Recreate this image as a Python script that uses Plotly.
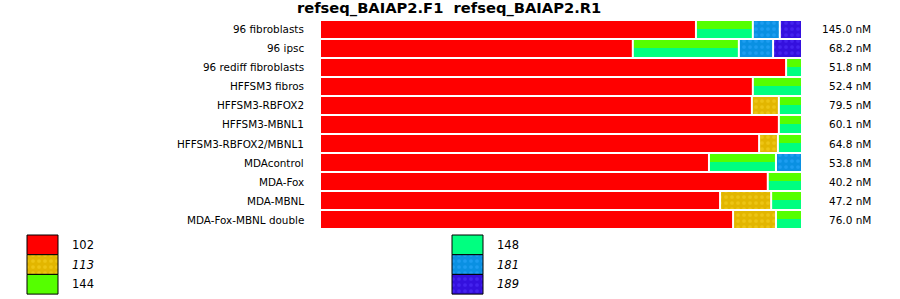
import plotly.graph_objects as go

# ---------------- data ----------------
categories = ["96 fibroblasts", "96 ipsc", "96 rediff fibroblasts", "HFFSM3 fibros",
              "HFFSM3-RBFOX2", "HFFSM3-MBNL1", "HFFSM3-RBFOX2/MBNL1", "MDAcontrol",
              "MDA-Fox", "MDA-MBNL", "MDA-Fox-MBNL double"]
totals_nM = [145.0, 68.2, 51.8, 52.4, 79.5, 60.1, 64.8, 53.8, 40.2, 47.2, 76.0]

# percentage share of each isoform per sample
pct_102 = [78.0, 64.9, 96.7, 89.8, 89.6, 95.2, 91.1, 80.7, 92.9, 83.0, 85.7]
pct_113 = [0.0, 0.0, 0.0, 0.0, 5.6, 0.0, 3.9, 0.0, 0.0, 10.6, 8.9]
pct_144_148 = [11.8, 22.0, 3.3, 10.2, 4.8, 4.8, 5.0, 13.9, 7.1, 6.4, 5.4]  # shared 144/148 segment
pct_181 = [5.6, 7.1, 0.0, 0.0, 0.0, 0.0, 0.0, 5.4, 0.0, 0.0, 0.0]
pct_189 = [4.6, 6.0, 0.0, 0.0, 0.0, 0.0, 0.0, 0.0, 0.0, 0.0, 0.0]

legend_names = ["102", "113", "144", "148", "181", "189"]
legend_italic = [False, True, False, False, True, True]

title_text = "refseq_BAIAP2.F1  refseq_BAIAP2.R1"

# ---------------- styles ----------------
W, H = 900, 299
FONT = "DejaVu Sans"
styles = {
    "102": dict(color="#FF0000"),
    "113": dict(color="#E2B600", pattern=dict(shape=".", bgcolor="#E2B600", fgcolor="#F8D428",
                                              size=6, solidity=0.3, fillmode="overlay")),
    "144": dict(color="#55FF00"),
    "148": dict(color="#00FF80"),
    "181": dict(color="#0A90E2", pattern=dict(shape=".", bgcolor="#0A90E2", fgcolor="#30AAFF",
                                              size=6, solidity=0.3, fillmode="overlay")),
    "189": dict(color="#3410DE", pattern=dict(shape=".", bgcolor="#3410DE", fgcolor="#5436FF",
                                              size=6, solidity=0.3, fillmode="overlay")),
}

x0_px, x1_px = 321, 803          # bar axis pixel extent (incl. trailing gap)
top_px, bot_px = 20, 229         # row area
gap = 2.0 / (x1_px - x0_px) * 100  # 2px white gap between segments in % units
bar_w = 17 / 19
off_top = -bar_w / 2
w_144 = 8 / 19
w_148 = bar_w - w_144

fig = go.Figure()

def seg_trace(name, values, bases, offset, width):
    xs, bs = [], []
    for v, b in zip(values, bases):
        xs.append(v - gap if v > 0 else None)
        bs.append(b)
    st = styles[name]
    marker = dict(color=st["color"], line=dict(width=0))
    if "pattern" in st:
        marker["pattern"] = st["pattern"]
    return go.Bar(y=categories, x=xs, base=bs, orientation="h", offset=offset, width=width,
                  marker=marker, name=name, showlegend=False, hoverinfo="skip",
                  xaxis="x", yaxis="y")

n = len(categories)
base_102 = [0.0] * n
base_113 = [a for a in pct_102]
base_144 = [a + b for a, b in zip(pct_102, pct_113)]
base_181 = [a + b for a, b in zip(base_144, pct_144_148)]
base_189 = [a + b for a, b in zip(base_181, pct_181)]

fig.add_trace(seg_trace("102", pct_102, base_102, off_top, bar_w))
fig.add_trace(seg_trace("113", pct_113, base_113, off_top, bar_w))
fig.add_trace(seg_trace("144", pct_144_148, base_144, off_top, w_144))
fig.add_trace(seg_trace("148", pct_144_148, base_144, off_top + w_144, w_148))
fig.add_trace(seg_trace("181", pct_181, base_181, off_top, bar_w))
fig.add_trace(seg_trace("189", pct_189, base_189, off_top, bar_w))

annotations = []
for cat, tot in zip(categories, totals_nM):
    annotations.append(dict(x=306 / W, xref="paper", y=cat, yref="y", text=cat,
                            xanchor="right", yanchor="middle", showarrow=False,
                            font=dict(family=FONT, size=10.4, color="black")))
    annotations.append(dict(x=873 / W, xref="paper", y=cat, yref="y", text=f"{tot:.1f} nM",
                            xanchor="right", yanchor="middle", showarrow=False,
                            font=dict(family=FONT, size=10.5, color="black")))

annotations.append(dict(x=449 / W, xref="paper", y=1 - 8.5 / H, yref="paper", text=f"<b>{title_text}</b>",
                        xanchor="center", yanchor="middle", showarrow=False,
                        font=dict(family=FONT, size=14.7, color="black")))

# ---------------- legend (boxes drawn as bars on an auxiliary pixel axis) ----------------
leg_cols_x = [27, 452]
leg_box_w = 31
leg_top = 235
leg_h = 19.7
for i, nm in enumerate(legend_names):
    col, row = divmod(i, 3)
    bx = leg_cols_x[col]
    by = leg_top + row * leg_h
    st = styles[nm]
    marker = dict(color=st["color"], line=dict(width=1, color="black"))
    if "pattern" in st:
        marker["pattern"] = st["pattern"]
    fig.add_trace(go.Bar(x=[bx + leg_box_w / 2], y=[leg_h], base=[by], width=[leg_box_w],
                         marker=marker, showlegend=False, hoverinfo="skip",
                         xaxis="x2", yaxis="y2"))
    txt = f"<i>{nm}</i>" if legend_italic[i] else nm
    annotations.append(dict(x=(bx + 43) / W, xref="paper", y=1 - (by + leg_h / 2) / H, yref="paper",
                            text=txt, xanchor="left", yanchor="middle", showarrow=False,
                            font=dict(family=FONT, size=11.5, color="black")))

fig.update_layout(
    width=W, height=H,
    margin=dict(l=0, r=0, t=0, b=0),
    paper_bgcolor="white", plot_bgcolor="rgba(0,0,0,0)",
    barmode="overlay",
    showlegend=False,
    xaxis=dict(domain=[x0_px / W, x1_px / W], range=[0, 100], visible=False, fixedrange=True),
    yaxis=dict(domain=[1 - bot_px / H, 1 - top_px / H], type="category",
               categoryorder="array", categoryarray=categories,
               range=[n - 0.5, -0.5], visible=False, fixedrange=True),
    xaxis2=dict(domain=[0, 1], range=[0, W], visible=False, anchor="y2", fixedrange=True),
    yaxis2=dict(domain=[0, 1], range=[H, 0], visible=False, anchor="x2", fixedrange=True),
    annotations=annotations,
)

fig.write_html("out.html")
